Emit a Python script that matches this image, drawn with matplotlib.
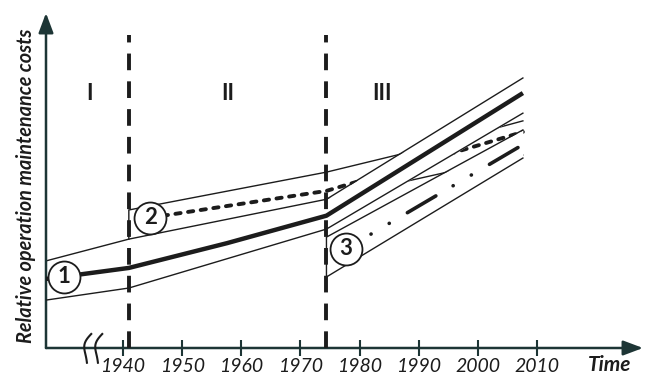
import numpy as np
import matplotlib
matplotlib.use("Agg")
import matplotlib.pyplot as plt
from matplotlib.path import Path

plt.rcParams['font.family'] = ['Lato', 'DejaVu Sans']
plt.rcParams['lines.scale_dashes'] = False

# --- data (schematic) ---
tick_years = [1940, 1950, 1960, 1970, 1980, 1990, 2000, 2010]
period_bounds = [1941.0, 1974.4]
period_names = ['I', 'II', 'III']
period_label_x = [1934.4, 1957.8, 1983.8]
period_label_y = 76
break_x = [1934.2, 1936.1]

# band 1 upper edge (also lower edge of band 2)
b1_up_x = [1927, 1941, 1974.4, 1994.8, 2007.6]
b1_up_y = [26.0, 32.5, 44.4, 52.5, 57.6]
# band 1 lower edge, continues as lower edge of the new band after 1974
b1_lo_x = [1927, 1941, 1974.4, 2007.6]
b1_lo_y = [14.3, 17.9, 35.5, 70.1]
# curve 1 (thick)
c1_x = [1927, 1941, 1957.6, 1974.4, 2007.6]
c1_y = [20.6, 23.9, 31.3, 39.5, 76.1]
# upper edge of band around curve 1 after 1974
c1_top_x = [1974.4, 2007.6]
c1_top_y = [44.4, 80.6]
# band 2 upper edge
b2_up_x = [1941, 1941, 1974.4, 1986.3, 2007.6]
b2_up_y = [32.5, 41.2, 52.5, 57.6, 67.8]
# curve 2 (dashed)
c2_x = [1944.6, 1974.4, 2007.6]
c2_y = [38.9, 46.9, 64.5]
# band 3 edges
b3_up_x = [1974.4, 1974.4, 2007.6]
b3_up_y = [21.2, 33.1, 65.1]
b3_lo_x = [1974.4, 2007.6]
b3_lo_y = [21.2, 56.7]
# curve 3 (dash-dot-dot)
c3_x = [1977.7, 2007.6]
c3_y = [29.6, 60.7]

circle_x = [1930.0, 1944.6, 1977.7]
circle_names = ['1', '2', '3']

ink = '#1c1c1c'
axis_col = '#1d3535'

fig = plt.figure(figsize=(6.46, 3.74), dpi=100)
ax = fig.add_axes([46 / 646, 26 / 374, 597 / 646, 335 / 374])
ax.set_xlim(1927, 2027.9)
ax.set_ylim(0, 100)
for s in ax.spines.values():
    s.set_visible(False)
ax.set_yticks([])
ax.set_xticks(tick_years)
ax.set_xticklabels([str(t) for t in tick_years], fontstyle='italic', fontsize=14)
ax.tick_params(axis='x', direction='inout', length=11.5, width=1.5, pad=1.5, colors=axis_col)
for lab in ax.get_xticklabels():
    lab.set_color(ink)

# axis arrows
arrow = dict(arrowstyle='-|>,head_length=1.2,head_width=0.45', lw=1.8, color=axis_col,
             shrinkA=0, shrinkB=0)
ax.annotate('', xy=(1, 0), xytext=(0, 0), xycoords='axes fraction', arrowprops=arrow,
            annotation_clip=False)
ax.annotate('', xy=(0, 1), xytext=(0, 0), xycoords='axes fraction', arrowprops=arrow,
            annotation_clip=False)

# axis break mark: two bent strokes
tt = np.linspace(0, 1, 40)
sq = np.column_stack([-0.17 * np.sin(np.pi * tt) + 0.16 * (tt - 0.5)
                      + 0.04 * np.sin(2 * np.pi * tt), tt - 0.5])
squiggle = Path(sq)
ax.plot(break_x, [0, 0], ls='none', marker=squiggle, ms=22, mew=1.5, mec=ink,
        fillstyle='none', clip_on=False, zorder=5)

thin = dict(color=ink, lw=1.0, solid_joinstyle='miter')

# band 2 (drawn first, partly hidden later)
ax.plot(b2_up_x, b2_up_y, zorder=2, **thin)
ax.plot(b1_up_x, b1_up_y, zorder=2, **thin)
ax.plot(c2_x, c2_y, color=ink, lw=2.8, dashes=(3.8, 5.4), dash_capstyle='round', zorder=2)

# band around curve 1 after 1974 (white, on top of band 2)
xs = np.linspace(c1_top_x[0], c1_top_x[-1], 50)
ax.fill_between(xs, np.interp(xs, b1_lo_x, b1_lo_y), np.interp(xs, c1_top_x, c1_top_y),
                color='white', lw=0, zorder=3)
ax.plot(c1_top_x, c1_top_y, zorder=4, **thin)
ax.plot(b1_lo_x, b1_lo_y, zorder=4, **thin)
ax.plot(c1_x, c1_y, color=ink, lw=3.2, solid_capstyle='butt', zorder=4)

# band 3
xs3 = np.linspace(b3_lo_x[0], b3_lo_x[-1], 50)
ax.fill_between(xs3, np.interp(xs3, b3_lo_x, b3_lo_y), np.interp(xs3, b3_up_x[1:], b3_up_y[1:]),
                color='white', lw=0, zorder=3)
ax.plot(b3_up_x, b3_up_y, zorder=4, **thin)
ax.plot(b3_lo_x, b3_lo_y, zorder=4, **thin)
ax.plot(c3_x, c3_y, color=ink, lw=2.6,
        linestyle=(17.3, (23.8, 14.4, 0.1, 15.1, 0.1, 15.1)),
        dash_capstyle='round', zorder=4)

# period boundaries (start at the axis with a full dash)
for xb in period_bounds:
    ax.plot([xb, xb], [0, 93.4], color=ink, lw=2.8, dashes=(12, 8),
            dash_capstyle='butt', zorder=5)

for name, xl in zip(period_names, period_label_x):
    ax.text(xl, period_label_y, name, ha='center', va='center', fontsize=16,
            fontweight='bold', color=ink)

# numbered circles
curves = [(c1_x, c1_y), (c2_x, c2_y), (c3_x, c3_y)]
for (cx, cy), xc, name in zip(curves, circle_x, circle_names):
    yc = np.interp(xc, cx, cy)
    ax.plot([xc], [yc], 'o', ms=23, mfc='white', mec=ink, mew=1.3, zorder=6)
    ax.text(xc, yc, name, ha='center', va='center', fontsize=16, fontweight='bold',
            color=ink, zorder=7)

fig.text(26 / 646, 1 - 186 / 374, 'Relative operation maintenance costs', rotation=90,
         ha='center', va='center', fontsize=14.3, fontweight='bold', fontstyle='italic',
         color=ink)
fig.text(610 / 646, 1 - 365 / 374, 'Time', ha='center', va='center', fontsize=15,
         fontweight='bold', fontstyle='italic', color=ink)

fig.savefig('out.png', dpi=100)
